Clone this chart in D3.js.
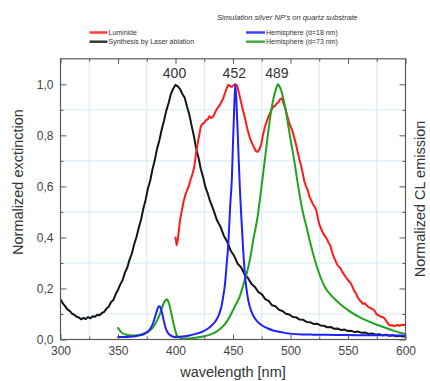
<!DOCTYPE html>
<html><head><meta charset="utf-8">
<script src="https://cdn.jsdelivr.net/npm/d3@7"></script>
<style>
html,body{margin:0;padding:0;background:#fff;}
svg{display:block;font-family:"Liberation Sans",Arial,sans-serif;}
</style></head><body>
<svg id="chart" width="430" height="381"></svg>
<script>
// ---- data ----
const blackNm = [300,302,304,306,308,310,312,314,316,318,320,322,324,326,328,330,332,334,336,338,340,342,344,346,348,350,352,354,356,358,360,362,364,366,368,370,372,374,376,378,380,382,384,386,388,390,392,394,396,398,400,402,404,406,408,410,412,414,416,418,420,422,424,426,428,430,433,436,439,442,445,448,451,454,457,460,463,466,469,472,475,478,481,484,487,490,493,496,499,502,505,508,511,514,517,520,523,526,529,532,535,538,541,544,547,550,553,556,559,562,565,568,571,574,577,580,583,586,589,592,595,598,600];
const blackVal = [0.158,0.142,0.131,0.118,0.112,0.101,0.097,0.089,0.086,0.079,0.085,0.080,0.088,0.083,0.091,0.089,0.097,0.095,0.104,0.108,0.121,0.129,0.147,0.155,0.178,0.194,0.216,0.232,0.262,0.281,0.312,0.336,0.372,0.401,0.437,0.468,0.512,0.547,0.592,0.622,0.667,0.703,0.748,0.781,0.823,0.857,0.897,0.927,0.962,0.983,0.998,0.992,0.981,0.962,0.947,0.913,0.882,0.838,0.797,0.748,0.712,0.668,0.637,0.598,0.572,0.543,0.508,0.468,0.443,0.407,0.383,0.348,0.328,0.297,0.283,0.255,0.241,0.218,0.206,0.186,0.178,0.158,0.151,0.134,0.130,0.116,0.112,0.101,0.098,0.088,0.087,0.078,0.077,0.069,0.068,0.061,0.062,0.055,0.054,0.048,0.049,0.042,0.043,0.037,0.039,0.033,0.034,0.029,0.031,0.026,0.027,0.022,0.024,0.019,0.021,0.017,0.019,0.015,0.017,0.013,0.015,0.012,0.013];

const redNm = [400,401,402,403,404,405.5,407,408.5,410,411.5,413,414.5,416,417,418,419,420,421,422,423.5,425,426.5,428,429.5,431,432.5,434,435.5,437,438.5,440,441.5,443,444.5,446,447.5,449,450.5,452,453.5,455,456.5,458,459.5,461,462.5,464,465.5,467,468.5,470,471.5,473,474.5,476,477.5,479,480.5,482,483.5,485,486.5,488,489.5,491,492.5,494,495.5,497,498.5,500,501.5,503,504.5,506,507.5,509,510.5,512,513.5,515,516.5,518,519.5,521,522.5,524,525.5,527,528.5,530,531.5,533,534.5,536,537.5,539,540.5,542,543.5,545,546.5,548,549.5,551,552.5,554,555.5,557,558.5,560,561.5,563,564.5,566,567.5,569,570.5,572,573.5,575,576.5,578,579.5,581,582.5,584,585.5,587,588.5,590,591.5,593,594.5,596,597.5,599,600];
const redVal = [0.40,0.37,0.39,0.43,0.47,0.505,0.54,0.565,0.585,0.60,0.625,0.645,0.67,0.70,0.735,0.76,0.785,0.81,0.835,0.845,0.85,0.86,0.862,0.875,0.868,0.872,0.885,0.90,0.91,0.918,0.932,0.945,0.965,0.985,0.998,0.993,0.99,0.997,1.0,0.995,0.97,0.94,0.91,0.885,0.855,0.825,0.80,0.78,0.765,0.75,0.738,0.735,0.745,0.765,0.80,0.83,0.85,0.87,0.885,0.90,0.912,0.915,0.925,0.93,0.942,0.945,0.925,0.905,0.88,0.855,0.835,0.82,0.795,0.77,0.74,0.71,0.685,0.655,0.62,0.60,0.585,0.56,0.545,0.53,0.52,0.505,0.47,0.445,0.43,0.415,0.405,0.395,0.38,0.37,0.345,0.325,0.31,0.295,0.285,0.28,0.265,0.255,0.245,0.235,0.228,0.22,0.205,0.19,0.18,0.165,0.155,0.148,0.14,0.142,0.135,0.128,0.125,0.12,0.118,0.11,0.098,0.095,0.09,0.088,0.086,0.078,0.068,0.058,0.055,0.056,0.052,0.055,0.057,0.054,0.056,0.058,0.057,0.058];

const blueNm = [350,355,360,365,370,373,376,378,380,382,384,385,386,387,388,389,390,391,392,394,396,398,400,404,408,412,416,420,424,428,431,434,436,438,440,441.5,443,444.5,446,447.5,449,450,451,452,453,454,455,456,457,458,459,460,461,462,463,464.5,466,468,470,473,476,480,485,490,495,500,510,520,540,560,580,600];
const blueVal = [0.010,0.010,0.011,0.013,0.017,0.022,0.031,0.041,0.058,0.085,0.115,0.127,0.130,0.125,0.110,0.090,0.070,0.052,0.038,0.023,0.015,0.011,0.010,0.011,0.013,0.016,0.020,0.025,0.032,0.042,0.053,0.067,0.080,0.100,0.130,0.168,0.215,0.295,0.380,0.520,0.630,0.770,0.900,1.0,0.93,0.82,0.70,0.59,0.50,0.42,0.34,0.275,0.225,0.19,0.16,0.13,0.11,0.09,0.077,0.063,0.053,0.044,0.035,0.030,0.026,0.023,0.020,0.019,0.018,0.017,0.017,0.016];

const greenNm = [350,351,352,353,355,358,362,366,370,374,377,380,382,384,386,388,390,391.5,392.5,393.5,395,396.5,398,399.5,401,403,406,410,415,420,425,430,435,439,443,447,450,453,456,459,462,465,468,471,474,477,480,483,486,488,489,490,492,494,496,498,500,502,504,506,508,510,512,514,516,518,520,523,526,530,535,540,545,550,555,560,565,570,575,580,585,590,595,600];
const greenVal = [0.045,0.040,0.033,0.028,0.022,0.018,0.016,0.017,0.020,0.026,0.033,0.045,0.058,0.075,0.095,0.120,0.145,0.155,0.158,0.152,0.130,0.100,0.068,0.040,0.018,0.008,0.004,0.004,0.006,0.009,0.013,0.019,0.029,0.042,0.060,0.088,0.115,0.142,0.170,0.215,0.260,0.320,0.400,0.470,0.570,0.680,0.790,0.890,0.960,0.990,1.0,0.995,0.975,0.940,0.895,0.840,0.785,0.735,0.680,0.620,0.565,0.515,0.475,0.440,0.400,0.365,0.330,0.285,0.245,0.205,0.175,0.152,0.132,0.115,0.100,0.088,0.077,0.067,0.058,0.050,0.042,0.034,0.027,0.022];

const peakNm = [400, 452, 489];
const peakLabels = ["400", "452", "489"];

const xTickValues = [300, 350, 400, 450, 500, 550, 600];
const xTickLabels = ["300", "350", "400", "450", "500", "550", "600"];
const yTickValues = [0, 0.2, 0.4, 0.6, 0.8, 1.0];
const yTickLabels = ["0,0", "0,2", "0,4", "0,6", "0,8", "1,0"];
const xMinorTicks = [325, 375, 425, 475, 525, 575];
const yMinorTicks = [0.1, 0.3, 0.5, 0.7, 0.9];

const legendLeft = ["Luminide", "Synthesis by Laser ablation"];
const legendRight = ["Hemisphere (d=18 nm)", "Hemisphere (d=73 nm)"];
const legendTitle = "Simulation silver NP's on quartz substrate";

// ---- layout ----
const svg = d3.select("#chart");
const X0 = 60.5, X1 = 405.5, Y0 = 339.5, Y1 = 58.8;
const x = d3.scaleLinear().domain([300, 600]).range([X0, X1]);
const y = d3.scaleLinear().domain([0, 1.1]).range([Y0, Y1]);

const colors = {red: "#ff1a1a", black: "#151515", blue: "#1f1fff", green: "#1fa31f"};
const axisColor = "#5a5a5a";
const textColor = "#444";

// grid at the odd ticks
const grid = svg.append("g").attr("stroke", "#d4e9f7").attr("stroke-width", 1);
grid.selectAll("line.v").data(xMinorTicks).join("line")
  .attr("x1", d => x(d)).attr("x2", d => x(d)).attr("y1", Y1).attr("y2", Y0);
grid.selectAll("line.h").data(yMinorTicks).join("line")
  .attr("x1", X0).attr("x2", X1).attr("y1", d => y(d)).attr("y2", d => y(d));

// curves
const clip = svg.append("clipPath").attr("id", "plotclip").append("rect")
  .attr("x", X0).attr("y", Y1).attr("width", X1 - X0).attr("height", Y0 - Y1);
const plot = svg.append("g").attr("clip-path", "url(#plotclip)");

function series(nm, vals) { return nm.map((d, i) => [d, vals[i]]); }
const rough = d3.line().x(d => x(d[0])).y(d => y(d[1]));
const smooth = d3.line().x(d => x(d[0])).y(d => y(d[1])).curve(d3.curveMonotoneX);

[[series(blackNm, blackVal), colors.black, rough],
 [series(redNm, redVal), colors.red, rough],
 [series(greenNm, greenVal), colors.green, smooth],
 [series(blueNm, blueVal), colors.blue, smooth]].forEach(([data, c, gen]) => {
  plot.append("path").datum(data).attr("d", gen)
    .attr("fill", "none").attr("stroke", c).attr("stroke-width", 2)
    .attr("stroke-linejoin", "round").attr("stroke-linecap", "round");
});

// axes
function styleAxis(g) {
  g.select(".domain").remove();
  g.selectAll(".tick line").attr("stroke", axisColor);
  g.selectAll(".tick text").attr("fill", textColor).attr("font-size", 12)
    .attr("font-family", "'Liberation Sans', Arial, sans-serif");
}
const bottom = svg.append("g").attr("transform", `translate(0,${Y0})`)
  .call(d3.axisBottom(x).tickValues(xTickValues).tickSize(-5).tickPadding(7)
    .tickFormat((d, i) => xTickLabels[i])).call(styleAxis);
svg.append("g").attr("transform", `translate(0,${Y0})`)
  .call(d3.axisBottom(x).tickValues(xMinorTicks).tickSize(-3).tickFormat(""))
  .call(styleAxis);
svg.append("g").attr("transform", `translate(0,${Y1})`)
  .call(d3.axisTop(x).tickValues(xTickValues).tickSize(-5).tickFormat("")).call(styleAxis);
svg.append("g").attr("transform", `translate(0,${Y1})`)
  .call(d3.axisTop(x).tickValues(xMinorTicks).tickSize(-3).tickFormat("")).call(styleAxis);
svg.append("g").attr("transform", `translate(${X0},0)`)
  .call(d3.axisLeft(y).tickValues(yTickValues).tickSize(-6).tickPadding(7)
    .tickFormat((d, i) => yTickLabels[i])).call(styleAxis);
svg.append("g").attr("transform", `translate(${X0},0)`)
  .call(d3.axisLeft(y).tickValues(yMinorTicks).tickSize(-3).tickFormat("")).call(styleAxis);
svg.append("g").attr("transform", `translate(${X1},0)`)
  .call(d3.axisRight(y).tickValues(yTickValues).tickSize(-6).tickFormat("")).call(styleAxis);
svg.append("g").attr("transform", `translate(${X1},0)`)
  .call(d3.axisRight(y).tickValues(yMinorTicks).tickSize(-3).tickFormat("")).call(styleAxis);

// frame
svg.append("rect").attr("x", X0).attr("y", Y1).attr("width", X1 - X0).attr("height", Y0 - Y1)
  .attr("fill", "none").attr("stroke", axisColor).attr("stroke-width", 1.2);

// peak labels
svg.append("g").selectAll("text").data(peakNm).join("text")
  .attr("x", d => x(d) - 1).attr("y", y(1.0) - 6)
  .attr("text-anchor", "middle").attr("font-size", 14).attr("fill", "#333")
  .text((d, i) => peakLabels[i]);

// axis titles
svg.append("text").attr("x", 233).attr("y", 377).attr("text-anchor", "middle")
  .attr("font-size", 14.5).attr("fill", "#333").text("wavelength [nm]");
svg.append("text").attr("transform", "translate(23,182) rotate(-90)")
  .attr("text-anchor", "middle").attr("font-size", 14.5).attr("fill", "#333")
  .text("Normalized exctinction");
svg.append("text").attr("transform", "translate(425,199) rotate(-90)")
  .attr("text-anchor", "middle").attr("font-size", 14.5).attr("fill", "#333")
  .text("Normalized CL emission");

// legend
const leg = svg.append("g").attr("font-size", 7).attr("fill", "#333");
leg.append("text").attr("x", 217).attr("y", 20).attr("font-style", "italic")
  .attr("font-size", 7.6).text(legendTitle);
const legRows = [32.5, 41.7];
[[legendLeft, [colors.red, colors.black], 89.5, 107.5],
 [legendRight, [colors.blue, colors.green], 246, 265]].forEach(([labels, cs, lx0, lx1]) => {
  labels.forEach((lab, i) => {
    leg.append("line").attr("x1", lx0).attr("x2", lx1)
      .attr("y1", legRows[i]).attr("y2", legRows[i])
      .attr("stroke", cs[i]).attr("stroke-width", 2.5).attr("opacity", 0.85);
    leg.append("text").attr("x", lx1 + 1).attr("y", legRows[i] + 2.5).text(lab);
  });
});
</script></body></html>
